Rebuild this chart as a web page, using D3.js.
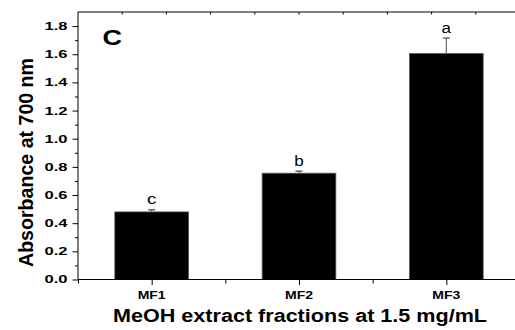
<!DOCTYPE html>
<html>
<head>
<meta charset="utf-8">
<script src="https://cdn.jsdelivr.net/npm/d3@7"></script>
<style>
  body { margin: 0; background: #fff; }
  svg { display: block; font-family: Arial, "Liberation Sans", sans-serif; }
</style>
</head>
<body>
<script>
const categories = ["MF1", "MF2", "MF3"];
const absorbance = [0.48, 0.755, 1.605];
const errors = [0.015, 0.015, 0.11];
const letters = ["c", "b", "a"];
const yMajorTicks = [0, 0.2, 0.4, 0.6, 0.8, 1.0, 1.2, 1.4, 1.6, 1.8];

const width = 515,
  height = 330;

const svg = d3
  .select("body")
  .append("svg")
  .attr("width", width)
  .attr("height", height);

// category i sits at i + 1 on a 0.5..3.5 axis
const x = d3.scaleLinear().domain([0.5, 3.5]).range([78, 520]);
const y = d3.scaleLinear().domain([0, 1.9]).range([279.5, 12]);
const barW = x(1.5) - x(1);

const data = categories.map((c, i) => ({
  name: c,
  pos: i + 1,
  value: absorbance[i],
  err: errors[i],
  letter: letters[i],
}));

// bars
svg
  .selectAll("rect.bar")
  .data(data)
  .join("rect")
  .attr("class", "bar")
  .attr("x", (d) => x(d.pos) - barW / 2)
  .attr("y", (d) => y(d.value))
  .attr("width", barW)
  .attr("height", (d) => y(0) - y(d.value))
  .attr("fill", "#000")
  .attr("stroke", "#555")
  .attr("stroke-width", 0.8);

// upper error bars
const eb = svg.selectAll("g.err").data(data).join("g").attr("class", "err");
eb.append("line")
  .attr("x1", (d) => x(d.pos))
  .attr("x2", (d) => x(d.pos))
  .attr("y1", (d) => y(d.value))
  .attr("y2", (d) => y(d.value + d.err))
  .attr("stroke", "#666")
  .attr("stroke-width", 1.2);
eb.append("line")
  .attr("x1", (d) => x(d.pos) - 3.5)
  .attr("x2", (d) => x(d.pos) + 3.5)
  .attr("y1", (d) => y(d.value + d.err))
  .attr("y2", (d) => y(d.value + d.err))
  .attr("stroke", "#444")
  .attr("stroke-width", 1.2);

// significance letters
svg
  .selectAll("text.sig")
  .data(data)
  .join("text")
  .attr("class", "sig")
  .attr("x", (d) => x(d.pos))
  .attr("y", (d) => y(d.value + d.err) - 5.5)
  .attr("text-anchor", "middle")
  .attr("font-size", 14)
  .attr("textLength", 9.5)
  .attr("lengthAdjust", "spacingAndGlyphs")
  .text((d) => d.letter);

// left axis
const leftAxis = svg.append("g").attr("transform", `translate(${x(0.5)},0)`);
leftAxis
  .call(
    d3
      .axisLeft(y)
      .tickValues(d3.range(0, 19).map((k) => k / 10))
      .tickSize(0)
      .tickFormat(""),
  )
  .call((g) => g.select(".domain").remove());
leftAxis
  .selectAll(".tick line")
  .attr("x2", (d) => (Math.round(d * 10) % 2 === 0 ? -5.5 : -3))
  .attr("stroke", "#000");
leftAxis
  .append("line")
  .attr("y1", y(0))
  .attr("y2", y(1.9))
  .attr("stroke", "#000");
leftAxis
  .selectAll("text.ylab")
  .data(yMajorTicks)
  .join("text")
  .attr("class", "ylab")
  .attr("x", -10.5)
  .attr("y", (d) => y(d))
  .attr("dy", "0.36em")
  .attr("text-anchor", "end")
  .attr("fill", "#000")
  .attr("font-family", "Arial, 'Liberation Sans', sans-serif")
  .attr("font-size", 11)
  .attr("font-weight", "bold")
  .attr("textLength", 23)
  .attr("lengthAdjust", "spacingAndGlyphs")
  .text((d) => d3.format(".1f")(d));

// bottom axis
const bottomAxis = svg.append("g").attr("transform", `translate(0,${y(0)})`);
bottomAxis
  .call(
    d3
      .axisBottom(x)
      .tickValues([0.5, 1, 1.5, 2, 2.5, 3, 3.5])
      .tickSize(0)
      .tickFormat(""),
  )
  .call((g) => g.select(".domain").remove());
bottomAxis
  .selectAll(".tick line")
  .attr("y2", (d) => (Number.isInteger(d) ? 5.5 : 4))
  .attr("stroke", "#000");
bottomAxis
  .append("line")
  .attr("x1", x(0.5))
  .attr("x2", x(3.5))
  .attr("stroke", "#000");
bottomAxis
  .selectAll("text.xlab")
  .data(data)
  .join("text")
  .attr("class", "xlab")
  .attr("x", (d) => x(d.pos))
  .attr("y", 19.5)
  .attr("text-anchor", "middle")
  .attr("fill", "#000")
  .attr("font-family", "Arial, 'Liberation Sans', sans-serif")
  .attr("font-size", 11.5)
  .attr("font-weight", "bold")
  .attr("textLength", 28)
  .attr("lengthAdjust", "spacingAndGlyphs")
  .text((d) => d.name);

// top frame with inward ticks
const topFrame = svg.append("g").attr("transform", `translate(0,${y(1.9)})`);
topFrame
  .append("line")
  .attr("x1", x(0.5))
  .attr("x2", x(3.5))
  .attr("stroke", "#000");
topFrame
  .selectAll("line.tt")
  .data(d3.range(1, 10).map((k) => 0.5 + k * 0.3))
  .join("line")
  .attr("class", "tt")
  .attr("x1", (d) => x(d))
  .attr("x2", (d) => x(d))
  .attr("y1", 0)
  .attr("y2", 2.5)
  .attr("stroke", "#000");

// panel label
svg
  .append("text")
  .attr("x", 102.5)
  .attr("y", 45.3)
  .attr("font-size", 22)
  .attr("font-weight", "bold")
  .attr("textLength", 19.5)
  .attr("lengthAdjust", "spacingAndGlyphs")
  .text("C");

// axis titles
svg
  .append("text")
  .attr("x", 113)
  .attr("y", 322)
  .attr("font-size", 17.5)
  .attr("font-weight", "bold")
  .attr("textLength", 374)
  .attr("lengthAdjust", "spacingAndGlyphs")
  .text("MeOH extract fractions at 1.5 mg/mL");

svg
  .append("text")
  .attr("transform", "translate(33,162.5) rotate(-90)")
  .attr("text-anchor", "middle")
  .attr("font-size", 20)
  .attr("font-weight", "bold")
  .attr("textLength", 209)
  .attr("lengthAdjust", "spacingAndGlyphs")
  .text("Absorbance at 700 nm");
</script>
</body>
</html>
